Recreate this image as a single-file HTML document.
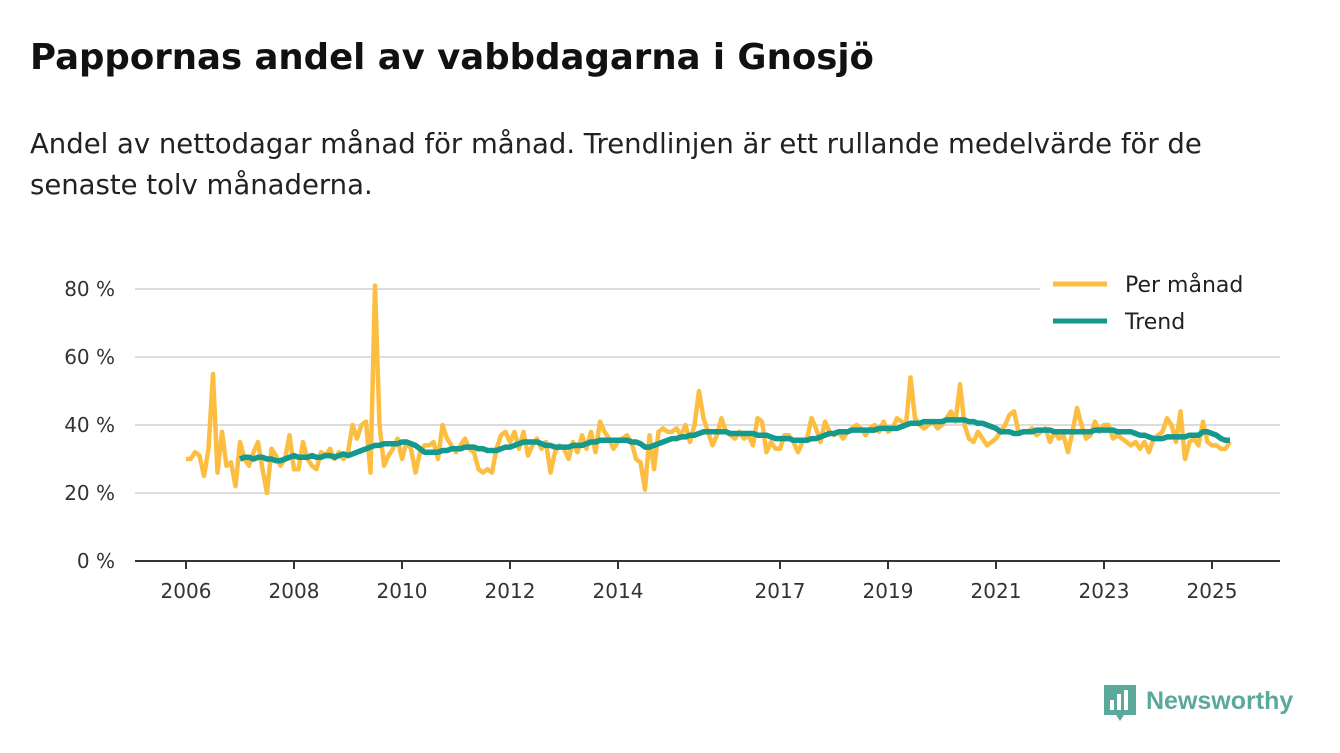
<!DOCTYPE html>
<html><head><meta charset="utf-8"><style>
body{margin:0;background:#fff;font-family:"DejaVu Sans","Liberation Sans",sans-serif;}
#wrap{position:relative;width:1340px;height:753px;overflow:hidden}
h1{position:absolute;left:30px;top:37px;margin:0;font-size:35.5px;font-weight:bold;color:#111;}
.sub{position:absolute;left:30px;top:124px;margin:0;font-size:27.5px;line-height:41px;color:#222;width:1250px}
</style></head><body><div id="wrap">
<h1>Pappornas andel av vabbdagarna i Gnosjö</h1>
<p class="sub">Andel av nettodagar månad för månad. Trendlinjen är ett rullande medelvärde för de senaste tolv månaderna.</p>
<svg id="chart" width="1340" height="753" style="position:absolute;left:0;top:0"></svg>
</div>
<script>
const monthly=[30,30,32,31,25,33,55,26,38,28,29,22,
35,30,28,32,35,27,20,33,31,28,30,37,
27,27,35,30,28,27,32,31,33,30,32,30,
32,40,36,40,41,26,81,40,28,31,33,36,
30,35,33,26,32,34,34,35,30,40,36,34,
32,34,36,33,32,27,26,27,26,33,37,38,
35,38,33,38,31,34,36,33,35,26,32,34,
33,30,35,32,37,33,38,32,41,38,36,33,
35,36,37,35,30,29,21,37,27,38,39,38,
38,39,37,40,35,40,50,42,38,34,37,42,
38,37,36,38,36,37,34,42,41,32,35,33,
33,37,37,35,32,35,36,42,39,35,41,38,
37,38,36,38,39,40,39,37,39,40,38,41,
38,39,42,41,40,54,42,40,39,40,41,39,
40,42,44,41,52,40,36,35,38,36,34,35,
36,38,40,43,44,38,38,38,39,37,38,39,
35,38,36,37,32,38,45,40,36,37,41,38,
40,40,36,37,36,35,34,35,33,35,32,36,
37,38,42,40,35,44,30,35,36,34,41,35,
34,34,33,33,35];
const trend=[30,30.5,30.5,30,30.5,30.5,30,30,29.5,29.5,30,30.5,
31,30.5,30.5,30.5,31,30.5,30.5,31,31,30.5,31,31.5,
31,31.5,32,32.5,33,33.5,34,34,34.5,34.5,34.5,34.5,
35,35,34.5,34,33,32,32,32,32,32.5,32.5,33,
33,33,33.5,33.5,33.5,33,33,32.5,32.5,32.5,33,33.5,
33.5,34,34.5,35,35,35,35,34.5,34,34,33.5,33.5,
33.5,33.5,34,34,34,34.5,35,35,35.5,35.5,35.5,35.5,
35.5,35.5,35.5,35,35,34.5,33.5,33.5,34,34.5,35,35.5,
36,36,36.5,36.5,37,37,37.5,38,38,38,38,38,
38,37.5,37.5,37.5,37.5,37.5,37.5,37,37,37,36.5,36,
36,36,36,35.5,35.5,35.5,35.5,36,36,36.5,37,37.5,
37.5,38,38,38,38.5,38.5,38.5,38.5,38.5,38.5,39,39,
39,39,39,39.5,40,40.5,40.5,40.5,41,41,41,41,
41,41.5,41.5,41.5,41.5,41.5,41,41,40.5,40.5,40,39.5,
39,38,38,38,37.5,37.5,38,38,38,38.5,38.5,38.5,
38.5,38,38,38,38,38,38,38,38,38,38.5,38.5,
38.5,38.5,38.5,38,38,38,38,37.5,37,37,36.5,36,
36,36,36.5,36.5,36.5,36.5,36.5,37,37,37,38,38,
37.5,37,36,35.5,35.5];
const trendStart=12;
const yTicks=[0,20,40,60,80];
const xTickYears=[2006,2008,2010,2012,2014,2017,2019,2021,2023,2025];
const startYear=2006;
const ns="http://www.w3.org/2000/svg";
const svg=document.getElementById('chart');
const x=m=>186+m*4.5;
const y=v=>561-v*3.4;
const FF='DejaVu Sans, Liberation Sans, sans-serif';
function mk(t,a){const e=document.createElementNS(ns,t);for(const k in a)e.setAttribute(k,a[k]);svg.appendChild(e);return e;}
yTicks.forEach(v=>{
  if(v>0){const g=mk('line',{x1:135,x2:1280,y1:y(v),y2:y(v),stroke:'#dcdcdc','stroke-width':2});
  
  }
  const t=mk('text',{x:115,y:y(v)+7,'text-anchor':'end','font-size':20,fill:'#333','font-family':FF});
  t.textContent=v+' %';
  
  
});
const ax=mk('line',{x1:135,x2:1280,y1:561,y2:561,stroke:'#333','stroke-width':2});


xTickYears.forEach(yr=>{
  const xx=x((yr-startYear)*12);
  const tk=mk('line',{x1:xx,x2:xx,y1:561,y2:569,stroke:'#333','stroke-width':2});
  
  
  const t=mk('text',{x:xx,y:598,'text-anchor':'middle','font-size':20,fill:'#333','font-family':FF});
  t.textContent=yr;
  
  
});
const p1=mk('polyline',{points:monthly.map((v,i)=>x(i)+','+y(v)).join(' '),fill:'none',stroke:'#fdbd41','stroke-width':4.5,'stroke-linejoin':'round'});


const p2=mk('polyline',{points:trend.map((v,i)=>x(i+trendStart)+','+y(v)).join(' '),fill:'none',stroke:'#13998d','stroke-width':5.5,'stroke-linejoin':'round'});


const lb=mk('rect',{x:1040,y:262,width:240,height:80,fill:'#fff'});


[['Per månad','#fdbd41',284],['Trend','#13998d',321]].forEach(([n,c,yy])=>{
  const l=mk('line',{x1:1053,x2:1107,y1:yy,y2:yy,stroke:c,'stroke-width':5});
  
  
  const t=mk('text',{x:1125,y:yy+8,'font-size':22,fill:'#222','font-family':FF});
  t.textContent=n;
  
  
});
const lg=mk('g',{});


lg.innerHTML='<path d="M1104 685 h32 v30 h-12 l-4 6 l-4 -6 h-12 z" fill="#5ba99a"/><rect x="1110" y="700" width="4" height="10" fill="#fff"/><rect x="1117" y="694" width="4" height="16" fill="#fff"/><rect x="1124" y="690" width="4" height="20" fill="#fff"/><text x="1146" y="709" font-size="25" font-weight="bold" fill="#5ba99a" font-family="Liberation Sans, sans-serif">Newsworthy</text>';
</script></body></html>
